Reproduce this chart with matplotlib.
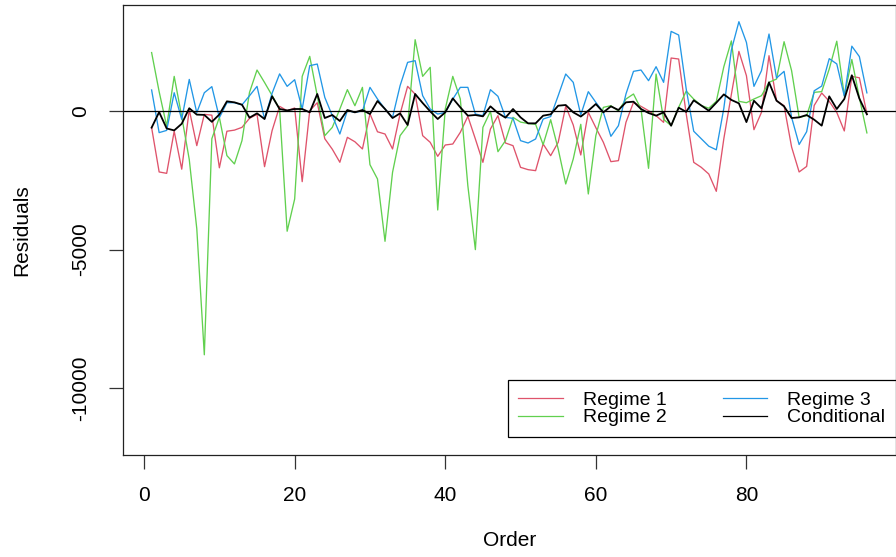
import numpy as np
import matplotlib
matplotlib.use("Agg")
import matplotlib.pyplot as plt

plt.rcParams['font.family'] = ['Liberation Sans', 'DejaVu Sans']

# residuals, order 1..96
regime1 = [-600, -2200, -2250, -730, -2100, 50, -1250, -120, -150, -2050,
           -730, -690, -590, -265, -120, -2009, -710, 168, 12, 108,
           -2550, 12, 300, -1000, -1380, -1850, -950, -1110, -1370, -100,
           -750, -830, -1370, -110, 890, 610, -890, -1130, -1636, -1227,
           -1191, -770, -192, -1010, -1853, -650, -168, -1155, -1251, -2033,
           -2117, -2153, -1191, -1612, -1130, 168, -505, -1588, -48, -600,
           -1130, -1828, -1792, -409, 313, 168, 12, -168, -409, 1913,
           1877, -100, -1853, -2033, -2274, -2899, -1000, 600, 2153, 1275,
           -674, -48, 1997, 373, 192, -1300, -2200, -2000, 200, 650,
           350, -50, -720, 1250, 1200, -100]
regime2 = [2110, 700, -550, 1250, -200, -1750, -4250, -8800, -1000, -230,
           -1610, -1910, -1070, 670, 1480, 1030, 560, 70, -4340, -3176,
           1251, 1973, 553, -890, -590, 72, 770, 192, 854, -1937,
           -2454, -4704, -2213, -890, -530, 2574, 1251, 1576, -3573, 72,
           1251, 433, -2695, -5004, -590, -12, -1468, -1070, -229, -400,
           -450, -480, -1215, -313, -1370, -2634, -1732, -480, -2995, -890,
           132, 192, 0, 433, 614, 72, -2069, 1335, -300, -530,
           132, 720, 430, 200, 100, 350, 1600, 2530, 350, 300,
           433, 553, 1035, 1155, 2502, 1456, -229, -168, 674, 700,
           1516, 2520, 553, 1860, 480, -790]
regime3 = [760, -780, -700, 660, -300, 1140, -60, 660, 880, -240,
           300, 300, 220, 550, 890, -290, 640, 1340, 890, 1130,
           72, 1636, 1696, 493, -168, -830, 12, -48, 0, 854,
           433, 72, -229, 914, 1756, 1817, 553, 72, -110, -50,
           430, 854, 854, -108, -168, 770, 530, -229, -265, -1070,
           -1155, -1010, -289, -200, 553, 1335, 1035, -140, 698, 313,
           -48, -914, -529, 614, 1432, 1480, 1095, 1600, 1035, 2875,
           2743, 800, -730, -1000, -1270, -1400, 100, 2200, 3224, 2478,
           890, 1456, 2779, 1191, 1432, -229, -1210, -746, 730, 900,
           1890, 1700, 535, 2340, 1965, 655]
conditional = [-600, -40, -630, -700, -460, 100, -130, -140, -390, -125,
               349, 313, 229, -240, -84, -289, 530, 72, 20, 72,
               72, -48, 614, -253, -144, -361, 36, -48, 36, -108,
               361, 72, -253, -84, -505, 614, 289, -12, -289, -48,
               457, 132, -168, -144, -192, 168, -72, -240, 72, -229,
               -445, -445, -168, -120, 192, 217, -48, -200, 12, 253,
               -48, 168, 36, 313, 337, 72, -72, -168, -48, -530,
               120, -30, 385, 200, 12, 300, 600, 400, 277, -400,
               370, 96, 1035, 373, 168, -253, -229, -144, -313, -529,
               529, 72, 433, 1290, 450, -120]

labels = ["Regime 1", "Regime 2", "Regime 3", "Conditional"]
colors = ["#DF536B", "#61D04F", "#2297E6", "black"]
order = np.arange(1, len(regime1) + 1)

fig = plt.figure(figsize=(8.96, 5.57), dpi=100)
ax = fig.add_axes([123/896, 102/557, 772.5/896, 450/557])

series = [regime1, regime2, regime3, conditional]
for s, lab, col in zip(series, labels, colors):
    lw = 1.3 if col == "black" else 0.95
    ax.plot(order, s, color=col, lw=lw, label=lab)
ax.axhline(0, color="black", lw=0.9)

ax.set_xlim(-2.8, 99.8)
ax.set_ylim(-12418, 3827)
ax.set_xticks([0, 20, 40, 60, 80])
ax.set_yticks([-10000, -5000, 0])
ax.set_yticklabels(["-10000", "-5000", "0"], rotation=90, va="center")
ax.tick_params(axis="both", length=10, width=0.9, labelsize=15, color="#333333")
ax.tick_params(axis="x", pad=12)
ax.tick_params(axis="y", pad=14)
for sp in ax.spines.values():
    sp.set_linewidth(0.9)
    sp.set_color("#222222")

ax.set_xlabel("Order", fontsize=15)
ax.set_ylabel("Residuals", fontsize=15)
ax.xaxis.set_label_coords(0.5, -0.191)
ax.xaxis.label.set_va("center")
ax.yaxis.set_label_coords(-0.1307, 0.5)
ax.yaxis.label.set_va("center")

leg = ax.legend(ncol=2, loc="lower right", bbox_to_anchor=(1.0, 0.04),
                fontsize=14, frameon=True, fancybox=False, framealpha=1,
                edgecolor="black", handlelength=2.3, handletextpad=1.0,
                columnspacing=2.9, labelspacing=0.0, borderpad=0.55,
                borderaxespad=0)
leg.get_frame().set_linewidth(0.9)
for h in leg.get_lines():
    h.set_linewidth(0.9)

fig.savefig("out.png", dpi=100)
